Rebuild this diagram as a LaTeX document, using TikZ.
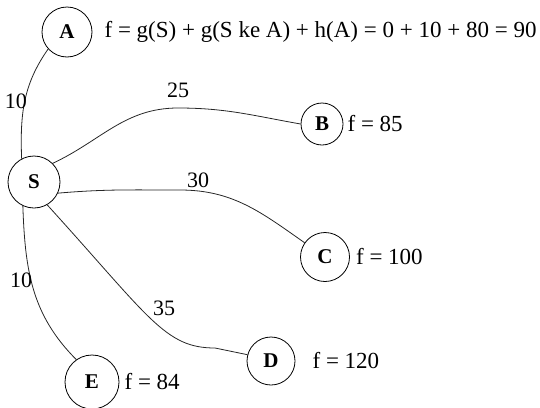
\documentclass[tikz,border=0pt]{standalone}
\usepackage{fontspec}
\setmainfont{Liberation Serif}
\usetikzlibrary{positioning}

\begin{document}
\begin{tikzpicture}[
  x=1pt,y=-1pt,
  state/.style={draw,circle,minimum size=49pt,inner sep=0pt,line width=0.8pt,font=\fontsize{21}{24}\selectfont\bfseries},
  ftext/.style={inner sep=0pt,anchor=west,font=\fontsize{23}{26}\selectfont},
  wlabel/.style={inner sep=0pt,font=\fontsize{22}{24}\selectfont},
  edge/.style={line width=0.8pt,black!85}
]
  \useasboundingbox (0,0) rectangle (540,407);
  \node[state,minimum size=52pt] (S) at (34,182) {S};
  \node[state,minimum size=50pt] (A) at (67,32) {A};
  \node[state,minimum size=42pt] (B) at (322,124) {B};
  \node[state,minimum size=49pt] (C) at (325,257) {C};
  \node[state,minimum size=48pt] (D) at (271,361) {D};
  \node[state,minimum size=54pt] (E) at (92,382) {E};
  % f values
  \node[ftext,right=12pt of A] (fA) {f = g(S) + g(S ke A) + h(A) = 0 + 10 + 80 = 90};
  \node[ftext,right=4pt of B] (fB) {f = 85};
  \node[ftext,right=6pt of C] (fC) {f = 100};
  \node[ftext,right=17pt of D] (fD) {f = 120};
  \node[ftext,right=5pt of E] (fE) {f = 84};
  % edges
  \draw[edge] (S.118) to[out=92,in=235] (A.222);
  \draw[edge] (S.45) to[out=25,in=180] (178,108) to[out=0,in=170] (B.west);
  \draw[edge] (S.-25) to[out=5,in=180] (180,190) to[out=0,in=145] (C.145);
  \draw[edge] (S.-60) .. controls (150,318) and (165,348) .. (215,348) -- (D.165);
  \draw[edge] (S.-115) to[out=-88,in=135] (E.125);
  % weights
  \node[wlabel] (w10a) at (16,101) {10};
  \node[wlabel] (w25) at (178,90) {25};
  \node[wlabel] (w30) at (198,180) {30};
  \node[wlabel] (w10e) at (21,280) {10};
  \node[wlabel] (w35) at (164,308) {35};
\end{tikzpicture}
\end{document}
